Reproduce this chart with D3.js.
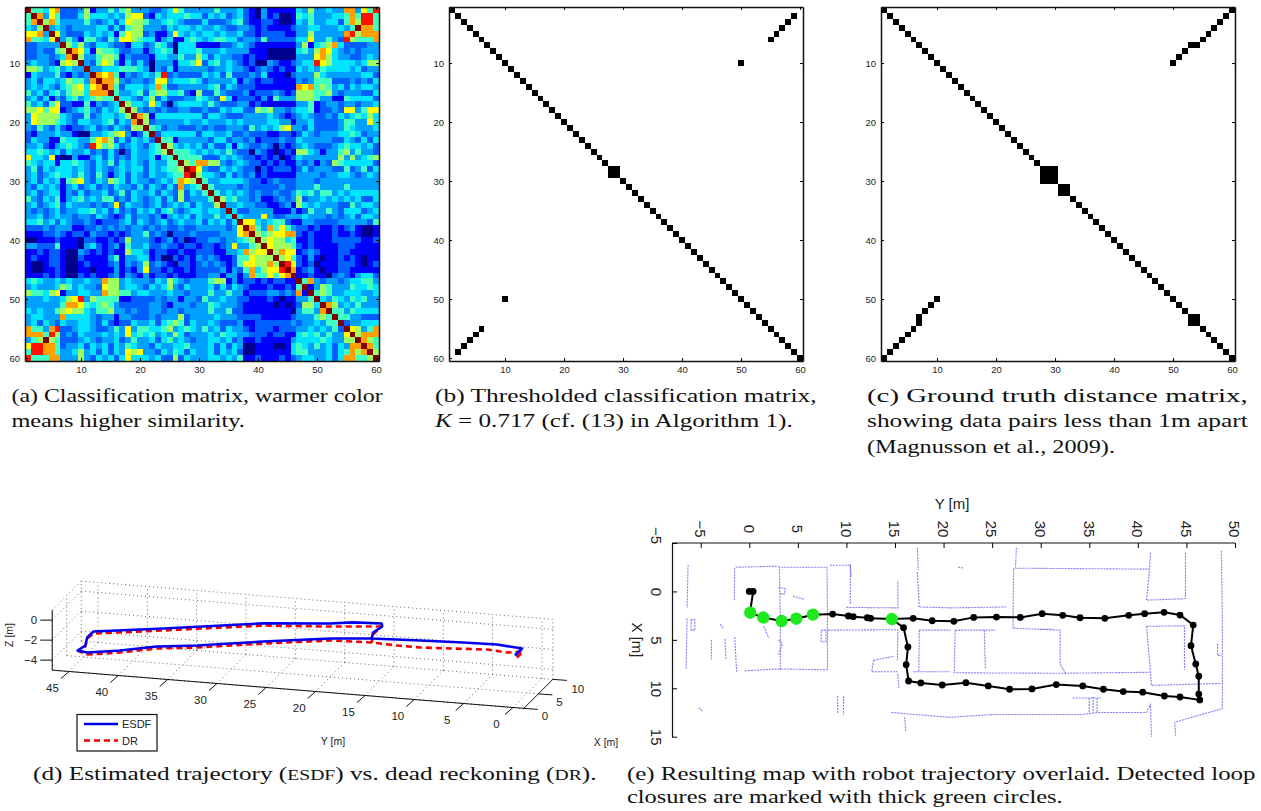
<!DOCTYPE html>
<html>
<head>
<meta charset="utf-8">
<script src="https://cdn.jsdelivr.net/npm/d3@7"></script>
<style>
body { margin:0; background:#fff; }
text { font-family:"Liberation Sans",Arial,sans-serif; fill:#222; }
.cap { font-family:"Liberation Serif",serif; font-size:18px; fill:#111; }
</style>
</head>
<body>
<svg id="fig" width="1261" height="811"></svg>
<script>
// lower triangle of the similarity matrix, levels 0-9 and D for the maximum
const simRows = [
"D","5D","58D","436D","7783D","85547D","223333D","2232256D","22332348D","343321676D",
"6653453433D","14333521323D","342443465538D","3434324567478D","53424535664888D",
"342413245345655D","5342572211 513234D","6675771234 5324346D","3766664322 523443 46D","3766654324 433452438D",
"3253242122 3423243266 D","2133343310 0334567312 5D","2433115443 3578624243 42D","3342134543 2975642343 245D",
"4454342433 4232420243 3456D","7443710031 1342423243 34145D","5434414454 3243524343 243355D",
"3524344434 3243234344 2434556D","3423454435 3253134243 243345 59D","3424341567 3243654243 323435876D",
"3243431342 3423243324 2432428345 D","3423441324 2334235243 3424326243 5D","5324351345 3435523243 2342426233 35D",
"3423452433 3232372433 2342343424 336D","3232342334 4534242324 3424532344 3443D","3342343323 3243212423 3231343424 33534D",
"4453424322 3212223424 3234234334 243424D","2223233311 2232323233 2323223223 3333237D",
"1112232122 1322121233 5232022232 22233378D","0011121110 2211212633 3212312012 233233456D",
"3322251110 3421231533 4223221221 2212373356 D","1121221003 2121211644 3122112112 2211334867 7D",
"1211221002 1111351334 4120021213 2321125576 66D","1001221001 2111231323 6232102212 3232125776 686D",
"1001121001 1011131213 7221211212 2223132584 6779D","1112121002 1211231321 3122121112 2331331385 57578D",
"4543343433 4338663433 3243643233 3566131221 212211D","3433346534 3327663443 2434632433 3424243211 1211215D",
"6554671334 4338665534 4333433233 3533533122 23323281D","3334334679 3655551122 2232331332 5334332211 121011335D",
"3333335887 5456532222 2332133323 3543332111 1101012664 D","4343356766 4355633232 2332332333 3533522111 1111103553 8D",
"3443338444 4323313322 2323336233 3343332222 1111123335 65D","3424324334 4324212243 3424565243 3432223112 2222232334 355D",
"8553892234 4322353735 5445634543 5342433212 2212223343 4352D","8885962324 3334343745 4534364233 3435443322 2122114545 35337D",
"356D652223 4323342353 3424534323 3443423112 1111134444 543366D","7998852334 2434243543 3243344533 3424243001 1100145435 3424388D",
"5998853346 3424243767 3324354243 3424342001 1111145533 34245868D","9555883336 3243424744 4342262433 3443435112 1112123443 342488556D"
];
const matrixTicks = [10,20,30,40,50,60];
// [row, col] cells of the lower triangle that are set, the diagonal is added below
const thresholdCells = [[29,28],[50,10],[55,6],[56,5],[57,4],[58,3],[59,2]];
const groundTruthCells = [[29,28],[30,28],[30,29],[32,31],[54,53],[50,10],[51,9],[52,8],[53,7],[54,7],[55,6],[56,5],[57,4],[58,3],[59,2],[60,1]];

// trajectory (d), [X, Y, Z] in metres
const esdfPath = [[0,-0.2,0.22],[2.5,-0.18,0.19],[2.8,2.44,0.29],[3,5.95,0.15],[3,10.3,0],[3,15.2,-0.19],[3,19.4,-0.52],[3,26.2,-1.37],[3,32.9,-2.3],[3,37,-2.73],[3,40.7,-3.43],[3,44,-3.89],[5,45.6,-4.4],[8,45.7,-4.78],[9,45.8,-4.27],[10.5,45.6,-4.1],[10.5,38.5,-3.22],[10.5,28.4,-1.9],[10.5,21.6,-1.37],[10.5,19.3,-1.08],[10.5,16.4,-0.95],[9,15.9,-0.78],[6,15.95,-0.52],[3,15.2,-0.19]];
const drPath = [[0,-0.4,0.03],[2.5,-0.28,-0.1],[2.8,1.43,-0.43],[3,3.5,-0.35],[3,6.96,-0.53],[3,10.3,-0.69],[3,12.6,-0.68],[3,15.2,-0.59],[3,19.4,-0.72],[3,26.2,-1.57],[3,32.9,-2.5],[3,37,-2.93],[3,40.7,-3.63],[3,44,-4.09],[5,45.4,-4.48],[8,45.7,-4.88],[9,45.8,-4.37],[10.5,45.6,-4.3],[10.5,38.5,-3.42],[10.5,28.4,-2.12],[10.5,21.6,-1.68],[10.5,19.3,-1.49],[10.5,16.5,-1.27],[9,16.3,-1.11],[6,15.95,-0.72],[3,15.2,-0.59]];
const yTicks3d = [0,5,10,15,20,25,30,35,40,45];
const xTicks3d = [0,5,10];
const zTicks3d = [-4,-2,0];

// map (e), [Y, X] in metres
const robotPath = [[0,0],[0.4,0],[0.07,2.2],[1.45,2.7],[3.33,3.06],[4.84,2.82],[6.55,2.4],[8.58,2.34],[10.2,2.54],[10.7,2.61],[12.15,2.72],[12.5,2.78],[14.68,2.85],[16.87,2.78],[18.83,3.03],[21.06,3.09],[23.1,2.68],[25.45,2.65],[27.9,2.68],[30.15,2.3],[32.27,2.47],[34.05,2.72],[36.6,2.78],[39.06,2.47],[40.7,2.3],[42.7,2.16],[44.34,2.44],[45.7,3.47],[45.47,5.6],[45.96,7.49],[46.27,8.76],[46.27,10.6],[46.37,11.2],[44.34,10.9],[42.73,10.8],[40.5,10.4],[38.5,10.34],[36.46,10.1],[34.33,9.76],[31.6,9.62],[29.1,10.07],[26.8,10.1],[24.6,9.76],[22.3,9.42],[19.86,9.66],[17.66,9.45],[16.4,9.25],[16.15,7.56],[16.33,5.74],[15.88,3.74],[14.68,2.85]];
const loopClosures = [[0.1,2.2],[1.45,2.7],[3.33,3.06],[4.84,2.82],[6.55,2.4],[14.68,2.85]];
const mapWalls = [
[[-6.3,-2.7],[-6.4,1.7]],[[-6.4,2.8],[-6.5,8]],[[-6,2.9],[-5.6,2.9],[-5.6,4],[-6,4],[-6,2.9]],
[[-1.4,-2.5],[3,-2.6]],[[-1.5,-2.4],[-1.54,0.9]],[[-1.5,4.7],[-1.3,8.3]],[[-0.45,8.2],[3,8],[8,8.1]],
[[3.1,-2.6],[3.2,3],[3.2,8.1]],[[3.3,-2.5],[8,-2.5],[8.05,3],[8.05,8.1]],
[[8.3,-2.7],[10.4,-2.7],[10.4,1.4]],[[10,1.65],[15.3,1.7],[15.3,-1.1]],
[[8.1,4],[15.3,3.95],[15.25,7.1]],[[12.8,7.1],[14.9,6.7]],[[12.8,7.1],[12.6,8.3],[15.4,8.3]],
[[17.3,-2],[17.5,1.6],[20.7,1.7],[26.5,1.6]],[[17.5,4],[17.45,8.3]],[[17.5,4],[20.7,4]],[[16.9,8.3],[20.7,8.3]],
[[14.65,12.5],[17,12.7],[20.7,13],[25.1,12.7],[34.3,12.7],[35.8,12.5],[40.9,12.5],[41.3,11.6],[41.4,15]],
[[9.1,10.8],[9.1,12.6]],[[9.7,10.8],[9.7,12.7]],[[-5.2,12],[-4.8,12.4]],
[[27.2,-2.3],[27.15,3.85]],[[27.2,-2.4],[41.2,-2.3],[40.9,0.9],[45,0.75]],[[27.2,3.8],[32,4],[32,7.5],[32.6,8.5]],
[[21.2,4],[25.3,4]],[[21.2,4],[21.1,8.3]],[[21,8.4],[32,8.45],[41.2,8.35]],
[[40.9,3.6],[44.8,3.55],[44.8,8.1]],[[40.9,3.6],[41.3,8.3],[41.4,9.7],[48.6,9.5]],
[[48.6,-4.2],[48.7,3],[48.7,12.1],[43.8,13.5],[43.9,15]],[[48.2,5.4],[48.2,6.6],[48.6,6.6]],
[[33.3,11],[36.2,11]],[[35,11],[35,12.6]],[[35.4,10.9],[35.4,12.5]],[[35.8,11],[35.8,12.5]],
[[-3.9,5],[-3.9,7]],[[-2.5,4.9],[-2.4,7]],[[3,5],[3.4,5.4],[3,6.6]],[[7.4,4],[7.9,4],[7.9,5.2],[7.4,5.2],[7.4,4]],
[[3,-0.4],[3.7,-0.3],[3.6,0.3],[3.1,0.2]],[[1.5,3.6],[2,4.8]],[[4.5,0.5],[5.6,0.8]],[[24.2,4],[24.3,8]],
[[44.9,-4],[44.9,0.7]],[[41.3,-4],[41.2,-2.4]],[[15.3,8.5],[15.4,10]],[[27.5,-4.5],[27.4,-2.5]],[[17.3,-4.5],[17.4,-2.2]],
[[29.9,3.9],[31.2,3.9]],[[21.5,-2.5],[22.1,-2.4]],[[10.4,-2.8],[10.5,-1.5]],[[-3,3.4],[-2.6,3.9]],[[16,13],[16.1,14.5]]
];
const mapYTicks = [-5,0,5,10,15,20,25,30,35,40,45,50];
const mapXTicks = [-5,0,5,10,15];

const captions = [
 [11.5,383,402,"(a) Classification matrix, warmer color"],
 [11.5,245,427,"means higher similarity."],
 [435,817,402,"(b) Thresholded classification matrix,"],
 [435,793,427,"<tspan font-style='italic'>K</tspan> = 0.717 (cf. (13) in Algorithm 1)."],
 [867,1248,402,"(c) Ground truth distance matrix,"],
 [867,1248,427,"showing data pairs less than 1m apart"],
 [867,1115,452.5,"(Magnusson et al., 2009)."],
 [33,597,780,"(d) Estimated trajectory (<tspan font-size='14'>ESDF</tspan>) vs. dead reckoning (<tspan font-size='14'>DR</tspan>)."],
 [627,1256,780,"(e) Resulting map with robot trajectory overlaid. Detected loop"],
 [627,1063,803,"closures are marked with thick green circles."]
];

const svg = d3.select('#fig');

const jet = d3.scaleLinear()
	.domain([0,1,2,3,4,5,6,7,8,9,10])
	.range(['#00008f','#0000ff','#0060ff','#00a0ff','#00e4ff','#40ffc0','#a0ff60','#ffff00','#ffa000','#ff1000','#800000']);

// expand the triangle to a flat list of cells
const simCells = [];
simRows.forEach((row,i)=>{
	row.replace(/ /g,'').split('').forEach((ch,j)=>{
		const v = ch==='D' ? 10 : +ch;
		simCells.push({r:i+1,c:j+1,v});
		if (i!==j) simCells.push({r:j+1,c:i+1,v});
	});
});

function binaryCells(list) {
	const out = d3.range(1,61).map(i=>({r:i,c:i}));
	list.forEach(([r,c])=>{ out.push({r,c}); out.push({r:c,c:r}); });
	return out;
}

function matrixPanel(left, cells, color) {
	const x = d3.scaleLinear().domain([0.5,60.5]).range([left,left+354]);
	const y = d3.scaleLinear().domain([0.5,60.5]).range([7,361]);
	const g = svg.append('g');

	g.selectAll('rect').data(cells).join('rect')
		.attr('x',d=>x(d.c-0.5))
		.attr('y',d=>y(d.r-0.5))
		.attr('width',d=>x(d.c+0.5)-x(d.c-0.5))
		.attr('height',d=>y(d.r+0.5)-y(d.r-0.5))
		.attr('fill',color)
		.attr('shape-rendering','crispEdges');

	const ax = (fn,scale,tx,ty,labels)=>{
		const a = g.append('g').attr('transform',`translate(${tx},${ty})`)
			.call(fn(scale).tickValues(matrixTicks).tickSizeInner(-3).tickSizeOuter(0).tickPadding(labels?5:0).tickFormat(labels?null:''));
		a.selectAll('path').attr('stroke','#111').attr('stroke-width',1.5);
		a.selectAll('text').style('font-family','Liberation Sans').style('font-size','9.5px').attr('fill','#222');
	};
	ax(d3.axisBottom,x,0,361,true);
	ax(d3.axisLeft,y,left,0,true);
	ax(d3.axisTop,x,0,7,false);
	ax(d3.axisRight,y,left+354,0,false);
}

matrixPanel(25,simCells,d=>jet(d.v));
matrixPanel(449,binaryCells(thresholdCells),()=>'#000');
matrixPanel(881,binaryCells(groundTruthCells),()=>'#000');

// panel d: fixed oblique view built from one scale per screen contribution
const yToSx = d3.scaleLinear().domain([0,45]).range([513,69]);
const yToSy = d3.scaleLinear().domain([0,45]).range([707.5,671.5]);
const xToSx = d3.scaleLinear().domain([0,10]).range([0,29]);
const xToSy = d3.scaleLinear().domain([0,10]).range([0,-29]);
const zToSy = d3.scaleLinear().domain([-5,1]).range([0,-60]);
const project = ([X,Y,Z])=>[yToSx(Y)+xToSx(X), yToSy(Y)+xToSy(X)+zToSy(Z)];
const line3d = d3.line().x(d=>project(d)[0]).y(d=>project(d)[1]);

const yLo=-1.1, yHi=46.7, xHi=10, zLo=-5, zHi=1;
const d3Panel = svg.append('g');
const gridSegs = [];
yTicks3d.forEach(Y=>{
	gridSegs.push([[0,Y,zLo],[xHi,Y,zLo]]);
	gridSegs.push([[xHi,Y,zLo],[xHi,Y,zHi]]);
});
xTicks3d.forEach(X=>{
	gridSegs.push([[X,yLo,zLo],[X,yHi,zLo]]);
	gridSegs.push([[X,yHi,zLo],[X,yHi,zHi]]);
});
zTicks3d.forEach(Z=>{
	gridSegs.push([[0,yHi,Z],[xHi,yHi,Z]]);
	gridSegs.push([[xHi,yHi,Z],[xHi,yLo,Z]]);
});
gridSegs.push([[0,yHi,zHi],[xHi,yHi,zHi]],[[xHi,yHi,zHi],[xHi,yLo,zHi]],[[xHi,yLo,zLo],[xHi,yLo,zHi]]);
d3Panel.selectAll('.grid').data(gridSegs).join('path').attr('class','grid')
	.attr('d',line3d).attr('fill','none')
	.attr('stroke','#555').attr('stroke-width',0.9).attr('stroke-dasharray','1 3');

const axisSegs = [[[0,yHi,zLo],[0,yLo,zLo]],[[0,yLo,zLo],[xHi,yLo,zLo]],[[0,yHi,zLo],[0,yHi,zHi]]];
d3Panel.selectAll('.ax').data(axisSegs).join('path').attr('class','ax')
	.attr('d',line3d).attr('fill','none').attr('stroke','#111').attr('stroke-width',1);

d3Panel.selectAll('.ytick').data(yTicks3d).join('g').attr('class','ytick')
	.attr('transform',d=>`translate(${project([0,d,zLo])})`)
	.call(s=>{
		s.append('line').attr('x2',-8).attr('y2',7).attr('stroke','#111');
		s.append('text').attr('x',-16.5).attr('y',20).attr('text-anchor','middle').style('font-size','11.5px').text(d=>d);
	});
d3Panel.selectAll('.xtick').data(xTicks3d).join('g').attr('class','xtick')
	.attr('transform',d=>`translate(${project([d,yLo,zLo])})`)
	.call(s=>{
		s.append('line').attr('x2',14).attr('y2',1).attr('stroke','#111');
		s.append('text').attr('x',d=>d===10?25:21).attr('y',d=>d===10?14:12).attr('text-anchor','middle').style('font-size','11.5px').text(d=>d);
	});
d3Panel.selectAll('.ztick').data(zTicks3d).join('g').attr('class','ztick')
	.attr('transform',d=>`translate(${project([0,yHi,d])})`)
	.call(s=>{
		s.append('line').attr('x2',-12).attr('stroke','#111');
		s.append('text').attr('x',-15).attr('y',4).attr('text-anchor','end').style('font-size','11.5px').text(d=>d3.format('')(d));
	});

d3Panel.append('text').attr('transform','translate(13,635) rotate(-90)').attr('text-anchor','middle').style('font-size','10.5px').text('Z [m]');
d3Panel.append('text').attr('x',333).attr('y',745).attr('text-anchor','middle').style('font-size','10.5px').text('Y [m]');
d3Panel.append('text').attr('x',606).attr('y',746).attr('text-anchor','middle').style('font-size','10.5px').text('X [m]');

d3Panel.append('path').attr('d',line3d(drPath)).attr('fill','none')
	.attr('stroke','#f00000').attr('stroke-width',2.6).attr('stroke-dasharray','6 4');
d3Panel.append('path').attr('d',line3d(esdfPath)).attr('fill','none')
	.attr('stroke','#0000ee').attr('stroke-width',2.6).attr('stroke-linejoin','round');

// legend of panel d
const legend = d3Panel.append('g');
legend.append('rect').attr('x',77).attr('y',714.5).attr('width',80).attr('height',36.5)
	.attr('fill','#fff').attr('stroke','#111').attr('stroke-width',1.2);
legend.append('line').attr('x1',84).attr('x2',118).attr('y1',724).attr('y2',724)
	.attr('stroke','#0000ee').attr('stroke-width',2.6);
legend.append('line').attr('x1',84).attr('x2',118).attr('y1',740.5).attr('y2',740.5)
	.attr('stroke','#f00000').attr('stroke-width',2.6).attr('stroke-dasharray','6 4');
legend.append('text').attr('x',122).attr('y',728).style('font-size','11px').text('ESDF');
legend.append('text').attr('x',122).attr('y',745).style('font-size','11px').text('DR');

// panel e
const mapY = d3.scaleLinear().domain([-5,50]).range([700.7,1235]);
const mapX = d3.scaleLinear().domain([-5,15]).range([543,736.7]);
const mapLine = d3.line().x(d=>mapY(d[0])).y(d=>mapX(d[1]));
const mapPanel = svg.append('g');

mapPanel.selectAll('.wall').data(mapWalls).join('path').attr('class','wall')
	.attr('d',mapLine).attr('fill','none')
	.attr('stroke','#6a6af0').attr('stroke-width',1.1).attr('stroke-dasharray','2 1').attr('opacity',0.85);

const topAxis = mapPanel.append('g').attr('transform','translate(0,543)')
	.call(d3.axisTop(mapY).tickValues(mapYTicks).tickSizeInner(-5).tickSizeOuter(0));
topAxis.select('.domain').attr('d','M672,0H1235').attr('stroke','#111').attr('stroke-width',1.2);
topAxis.selectAll('text')
	.attr('transform','translate(-1,-14) rotate(90)')
	.attr('x',0).attr('y',0).attr('dy','.35em').attr('text-anchor','middle')
	.style('font-family','Liberation Sans').style('font-size','15px');

const leftAxis = mapPanel.append('g').attr('transform','translate(672,0)')
	.call(d3.axisLeft(mapX).tickValues(mapXTicks).tickSizeInner(-5).tickSizeOuter(0));
leftAxis.select('.domain').attr('stroke','#111').attr('stroke-width',1.2);
leftAxis.selectAll('text')
	.attr('transform',d=>`translate(-16,${d===-5?-8:0}) rotate(90)`)
	.attr('x',0).attr('y',0).attr('dy','.35em').attr('text-anchor','middle')
	.style('font-family','Liberation Sans').style('font-size','15px');

mapPanel.append('text').attr('x',952).attr('y',509).attr('text-anchor','middle').style('font-size','15px').text('Y [m]');
mapPanel.append('text').attr('transform','translate(637,640) rotate(90)').attr('dy','.35em').attr('text-anchor','middle').style('font-size','15px').text('X [m]');

mapPanel.append('path').attr('d',mapLine(robotPath)).attr('fill','none').attr('stroke','#000').attr('stroke-width',2);
mapPanel.selectAll('.pose').data(robotPath).join('circle').attr('class','pose')
	.attr('cx',d=>mapY(d[0])).attr('cy',d=>mapX(d[1])).attr('r',3.4).attr('fill','#000');
mapPanel.selectAll('.closure').data(loopClosures).join('circle').attr('class','closure')
	.attr('cx',d=>mapY(d[0])).attr('cy',d=>mapX(d[1])).attr('r',6.2).attr('fill','#1fe81f');

// captions: serif stretched to the measured line width
svg.selectAll('.cap').data(captions).join('text').attr('class','cap')
	.html(d=>d[3])
	.attr('transform',function(d){
		const k = (d[1]-d[0])/this.getComputedTextLength();
		return `translate(${d[0]},${d[2]}) scale(${k},1)`;
	});
</script>
</body>
</html>
